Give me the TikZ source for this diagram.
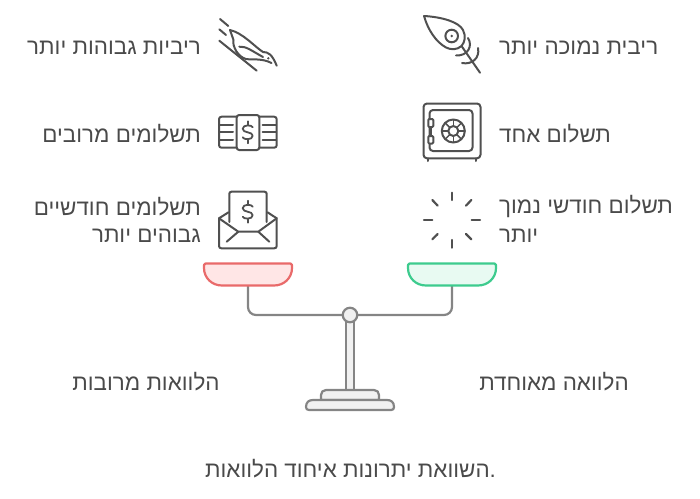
\documentclass[tikz,border=0pt]{standalone}
\usepackage{fontspec}
\newfontfamily\hebfont[Script=Hebrew]{Liberation Sans}
\TeXXeTstate=1
\definecolor{txt}{HTML}{4A4A4A}
\definecolor{ico}{HTML}{505050}
\definecolor{scl}{HTML}{858585}
\definecolor{sfill}{HTML}{F1F1F1}
\definecolor{redline}{HTML}{E96A6A}
\definecolor{redfill}{HTML}{FFE6E6}
\definecolor{grnline}{HTML}{3DCB8E}
\definecolor{grnfill}{HTML}{E8FAF2}
\newcommand{\heb}[1]{\hebfont\beginR #1\endR}
\newcommand{\dollar}[2]{%
 \draw[icon,line width=1.8pt,shift={(#1,#2)}] (5,-5) .. controls (4.5,-7.5) and (-5,-8) .. (-5,-3.5) .. controls (-5,1) and (5,-1) .. (5,3.5) .. controls (5,8) and (-4.5,7.5) .. (-5,5);
 \draw[icon,line width=1.8pt,shift={(#1,#2)}] (0,-11) -- (0,-7) (0,7) -- (0,11);}
\newcommand{\pan}[3]{%
 \draw[line width=2.2pt,line join=round,draw=#2,fill=#3,shift={(#1,0)}] (-44,265) .. controls (-44,264) and (-43.5,263.5) .. (-42.5,263.5) -- (42.5,263.5) .. controls (43.5,263.5) and (44,264) .. (44,265) -- (44,268) .. controls (44,278) and (36,285.5) .. (26,285.5) -- (-26,285.5) .. controls (-36,285.5) and (-44,278) .. (-44,268) -- cycle;}
\tikzset{
 lab/.style={font=\fontsize{22.4}{26}\selectfont,text=txt,inner sep=0pt},
 icon/.style={draw=ico,line width=2pt,line cap=round,line join=round},
 bar/.style={draw=scl,line width=2.2pt,line join=round},
}
\begin{document}
\begin{tikzpicture}[x=1pt,y=-1pt]
\useasboundingbox (0,0) rectangle (700,498);
% labels
\node[lab,anchor=west] (t1) at (499,47.7) {\heb{ריבית נמוכה יותר}};
\node[lab,anchor=west] (t2) at (499,133.7) {\heb{תשלום אחד}};
\node[lab,anchor=west] (t3) at (499,206.7) {\heb{תשלום חודשי נמוך}};
\node[lab,anchor=west] (t3b) at (499,235.7) {\heb{יותר}};
\node[lab,anchor=east] (t4) at (201,47.7) {\heb{ריביות גבוהות יותר}};
\node[lab,anchor=east] (t5) at (201,133.7) {\heb{תשלומים מרובים}};
\node[lab,anchor=east] (t6) at (201,206.7) {\heb{תשלומים חודשיים}};
\node[lab,anchor=east] (t6b) at (201,235.7) {\heb{גבוהים יותר}};
\node[lab] (l1) at (146,381.7) {\heb{הלוואות מרובות}};
\node[lab] (l2) at (554,381.7) {\heb{הלוואה מאוחדת}};
\node[lab] (title) at (350.5,468.7) {\heb{השוואת יתרונות איחוד הלוואות}.};
% scale
\draw[bar,rounded corners=8pt] (248,285) -- (248,315) -- (452,315) -- (452,285);
\pan{248}{redline}{redfill}
\pan{452}{grnline}{grnfill}
\draw[bar,fill=sfill] (346,321) rectangle (354,390);
\draw[bar,fill=sfill] (321,400) -- (321,395) .. controls (321,392) and (323,390) .. (326,390) -- (374,390) .. controls (377,390) and (379,392) .. (379,395) -- (379,400) -- cycle;
\draw[bar,fill=sfill] (306,407) .. controls (306,402) and (309,400) .. (313,400) -- (387,400) .. controls (391,400) and (394,402) .. (394,407) .. controls (394,409) and (393,410) .. (391,410) -- (309,410) .. controls (307,410) and (306,409) .. (306,407) -- cycle;
\node[circle,draw=scl,fill=sfill,line width=2.2pt,minimum size=14.5pt,inner sep=0pt] (pivot) at (350,315) {};
% feather
\draw[icon] (424,16) .. controls (442,17) and (459,22) .. (463,30) .. controls (466,36) and (465,42) .. (461.5,46) .. controls (457,50) and (451,50) .. (446,47.5) .. controls (436,42) and (428,30) .. (424,16) -- cycle;
\draw[icon] (451.7,36) circle (6.3);
\fill[ico] (451.7,36) circle (1.3);
\draw[icon] (461.5,46) -- (480,72.7);
\draw[icon] (468,38) .. controls (473,46) and (468,56) .. (456,55.5);
\draw[icon] (478,48) .. controls (480,58) and (472,65) .. (462,63);
% bird
\draw[icon] (220,19) -- (228.3,26);
\draw[icon] (219.3,29.3) -- (226,35);
\draw[icon] (219.3,40.7) -- (256.7,70.7);
\draw[icon] (230,30) .. controls (243,33) and (255,47) .. (263,52) .. controls (268,52) and (272,54) .. (276.7,65.7);
\draw[icon] (271.5,63) .. controls (262,58) and (252,60) .. (246,59) .. controls (238,57) and (232,46) .. (233.5,40) -- (230,30);
\draw[icon] (239.3,46.7) .. controls (246,46) and (252,51) .. (263,57);
\fill[ico] (268.3,58.3) circle (1.3);
% money
\draw[icon,rounded corners=2.5pt] (236.7,116.7) -- (219,116.7) -- (219,147.7) -- (236.7,147.7);
\draw[icon,rounded corners=2.5pt] (259.3,116.7) -- (276.7,116.7) -- (276.7,147.7) -- (259.3,147.7);
\draw[icon,rounded corners=2.5pt] (236.7,115) rectangle (259.3,150);
\foreach \y in {125,132.3,140} {
 \draw[icon] (220,\y) -- (233,\y);
 \draw[icon] (262.7,\y) -- (276,\y);
}
\dollar{247.7}{132.3}
% safe
\draw[icon,rounded corners=3.5pt] (423.5,103.5) rectangle (480.5,158.3);
\draw[icon,rounded corners=3.5pt] (429.5,110) rectangle (472.5,151);
\draw[icon,fill=white,rounded corners=1pt] (428.3,119) rectangle (433.3,127);
\draw[icon,fill=white,rounded corners=1pt] (428.3,136) rectangle (433.3,143.5);
\draw[icon] (430.8,127) -- (430.8,136);
\draw[icon] (428.3,158.3) -- (428.3,161) (475.5,158.3) -- (475.5,161);
\draw[icon] (453.3,131) circle (11.5);
\draw[icon] (453.3,131) circle (5);
\foreach \a in {0,45,...,315} \draw[icon,line width=1.5pt] (453.3,131) ++(\a:5) -- ++(\a:6.5);
% envelope
\draw[icon] (229.3,222) -- (229.3,194) .. controls (229.3,192.5) and (230,191.7) .. (231.5,191.7) -- (264.5,191.7) .. controls (266,191.7) and (266.7,192.5) .. (266.7,194) -- (266.7,222);
\draw[icon] (228.5,212.3) -- (219,218.3) -- (219,246) .. controls (219,247.5) and (220,248.3) .. (221.5,248.3) -- (274.2,248.3) .. controls (275.7,248.3) and (276.7,247.5) .. (276.7,246) -- (276.7,218.3) -- (267.5,212.3);
\draw[icon] (219,218.3) -- (238.3,231.7) -- (258.3,231.7) -- (276.7,218.3);
\draw[icon] (226.7,241.7) -- (238.3,231.7) (269.3,241.7) -- (258.3,231.7);
\dollar{247.7}{211.7}
% sun
\foreach \xa/\ya/\xb/\yb in {451.7/192.7/451.7/200, 451.7/240/451.7/247.7, 424/220/432.3/220, 471.7/220/480/220, 432.3/200/437.7/205.7, 471.3/200/466/205.7, 432.3/239.3/437.7/234, 471.3/239.3/466/234}
 \draw[icon,line width=2.2pt] (\xa,\ya) -- (\xb,\yb);
\end{tikzpicture}
\end{document}
